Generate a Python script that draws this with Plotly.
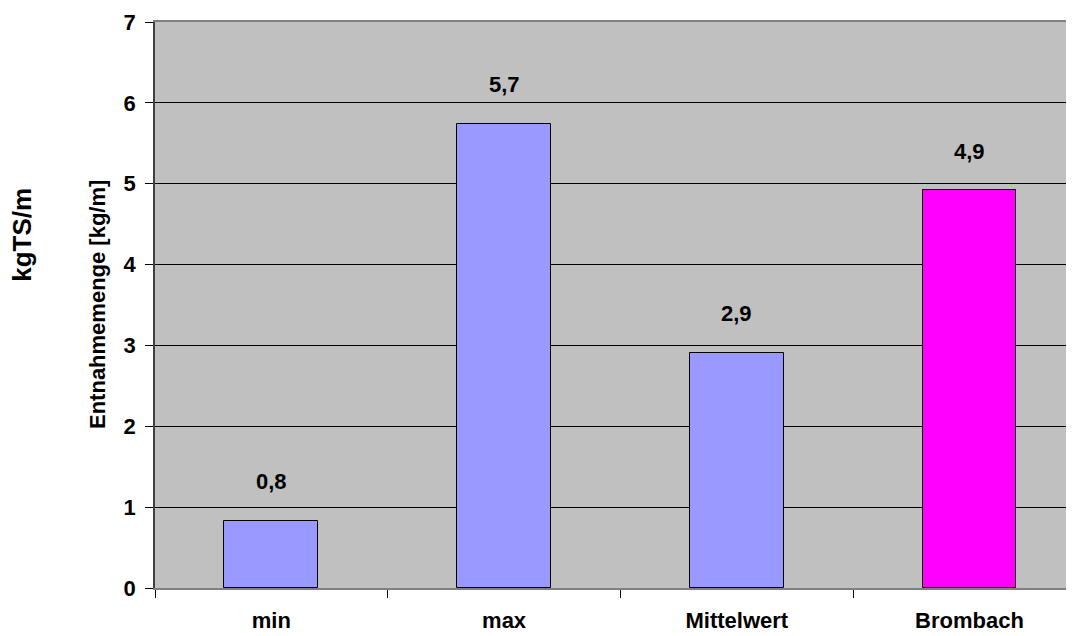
import plotly.graph_objects as go

categories = ["min", "max", "Mittelwert", "Brombach"]
values = [0.83, 5.74, 2.91, 4.92]
bar_colors = ["#9999FF", "#9999FF", "#9999FF", "#FF00FF"]
y_ticks = [0, 1, 2, 3, 4, 5, 6, 7]

FONT = "Liberation Sans, Arial, sans-serif"

fig = go.Figure()
fig.add_trace(go.Bar(
    x=categories, y=values,
    marker=dict(color=bar_colors, line=dict(color="black", width=1)),
    width=0.403,
    hoverinfo="skip",
))

for c, v in zip(categories, values):
    fig.add_annotation(
        x=c, y=v, xref="x", yref="y",
        text=f"<b>{v:.1f}</b>".replace(".", ","),
        showarrow=False, yanchor="middle", yshift=39,
        font=dict(family=FONT, size=22, color="black"),
    )

fig.add_annotation(
    x=0, y=0.5, xref="paper", yref="paper", xanchor="center", yanchor="middle",
    xshift=-58, textangle=-90, showarrow=False,
    text="<b>Entnahmemenge [kg/m]</b>",
    font=dict(family=FONT, size=22, color="black"),
)
fig.add_annotation(
    x=0, y=0.624, xref="paper", yref="paper", xanchor="center", yanchor="middle",
    xshift=-133, textangle=-90, showarrow=False,
    text="<b>kgTS/m</b>",
    font=dict(family=FONT, size=26, color="black"),
)

fig.update_layout(
    width=1066, height=628,
    margin=dict(l=147, r=0, t=14, b=47.5),
    paper_bgcolor="white",
    plot_bgcolor="#C0C0C0",
    showlegend=False,
    bargap=0,
)
fig.update_xaxes(
    type="category",
    range=[-0.5, 3.449],
    showgrid=False,
    showline=True, linecolor="#808080", linewidth=1.5, mirror=True,
    ticks="outside", ticklen=8, tickcolor="black", tickson="boundaries",
    tickfont=dict(family=FONT, size=22, color="black", weight="bold"),
    ticklabelstandoff=12,
)
fig.update_yaxes(
    range=[0, 7],
    tickvals=y_ticks,
    showgrid=True, gridcolor="black", gridwidth=1,
    zeroline=False,
    showline=True, linecolor="#404040", linewidth=1.5,
    ticks="outside", ticklen=8, tickcolor="black",
    tickfont=dict(family=FONT, size=22, color="black", weight="bold"),
    ticklabelstandoff=5,
)

fig.write_html("out.html")
